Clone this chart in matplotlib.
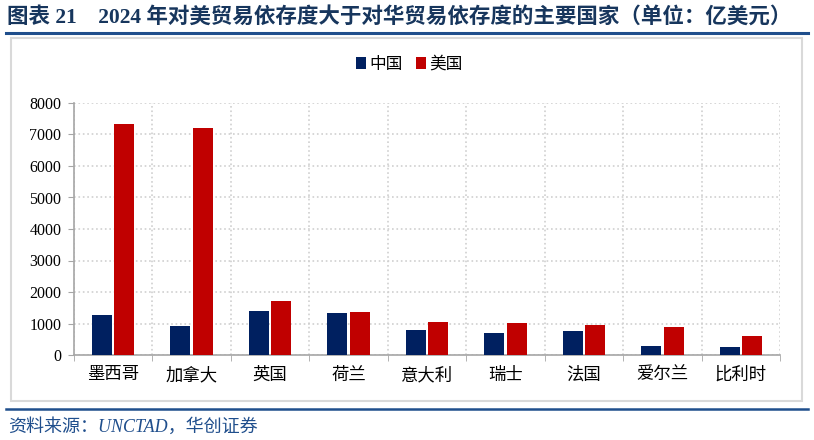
import matplotlib
matplotlib.use('Agg')
import matplotlib.pyplot as plt
import numpy as np
from matplotlib.patches import Rectangle
from matplotlib.lines import Line2D

# data (亿美元)
countries = ['墨西哥', '加拿大', '英国', '荷兰', '意大利', '瑞士', '法国', '爱尔兰', '比利时']
china = [1270, 930, 1385, 1320, 780, 705, 770, 270, 265]
usa = [7320, 7205, 1700, 1380, 1060, 1015, 940, 885, 610]
series_names = ['中国', '美国']
yticks = [0, 1000, 2000, 3000, 4000, 5000, 6000, 7000, 8000]

title = '图表 21\u30002024 年对美贸易依存度大于对华贸易依存度的主要国家（单位：亿美元）'
source = '资料来源：UNCTAD，华创证券'

navy = '#002060'
red = '#C00000'
blue_line = '#1F4E8C'
title_col = '#17365D'

fonts = ['Liberation Serif', 'Noto Sans CJK SC', 'DejaVu Sans']
plt.rcParams['font.family'] = fonts

fig = plt.figure(figsize=(8.14, 4.4), dpi=100)

# outer frame of the chart box
fig.patches.append(Rectangle((11 / 814, 1 - 401 / 440), 791 / 814, 363 / 440,
                             transform=fig.transFigure, fill=False,
                             edgecolor='#D9D9D9', linewidth=1.5))
# title and rules
fig.text(7 / 814, 1 - 17 / 440, title, fontsize=15.5, fontweight='bold',
         color=title_col, va='center', ha='left')
fig.add_artist(Line2D([6 / 814, 808 / 814], [1 - 33 / 440, 1 - 33 / 440],
                      transform=fig.transFigure, color=blue_line, linewidth=2.2))
fig.add_artist(Line2D([6 / 814, 808 / 814], [1 - 409 / 440, 1 - 409 / 440],
                      transform=fig.transFigure, color=blue_line, linewidth=1.8))
fig.text(8 / 814, 1 - 427 / 440, source, fontsize=13, style='italic',
         color=blue_line, va='center', ha='left')

ax = fig.add_axes([74 / 814, 1 - 355 / 440, 706 / 814, 252 / 440])
x = np.arange(len(countries))
w = 0.255
off = 0.143
ax.bar(x - off, china, w, color=navy, label=series_names[0], zorder=3)
ax.bar(x + off, usa, w, color=red, label=series_names[1], zorder=3)

ax.set_xlim(-0.5, len(countries) - 0.5)
ax.set_ylim(0, 8000)
ax.set_yticks(yticks)
ax.set_yticklabels([str(v) for v in yticks], fontsize=11.5)
ax.set_xticks(x)
ax.set_xticklabels(countries, fontsize=12.5)
ax.set_xticks(np.arange(len(countries) + 1) - 0.5, minor=True)
ax.tick_params(axis='x', which='major', length=0, pad=9)
ax.tick_params(axis='x', which='minor', length=4, color='#A6A6A6', direction='out')
ax.tick_params(axis='y', which='major', length=4, color='#A6A6A6', direction='out', pad=5)

ax.grid(axis='y', which='major', linestyle=':', color='#D0D0D0', linewidth=1.2, zorder=0)
ax.grid(axis='x', which='minor', linestyle=':', color='#D0D0D0', linewidth=1.2, zorder=0)
ax.grid(axis='x', which='major', visible=False)
for s in ['top', 'right']:
    ax.spines[s].set_visible(False)
for s in ['left', 'bottom']:
    ax.spines[s].set_color('#A6A6A6')
    ax.spines[s].set_linewidth(1.2)

fig.legend(loc='center', bbox_to_anchor=(409 / 814, 1 - 65 / 440), ncol=2,
           frameon=False, fontsize=12, handlelength=0.6, handleheight=0.7,
           handletextpad=0.2, columnspacing=0.8)

fig.savefig('out.png', dpi=100)
